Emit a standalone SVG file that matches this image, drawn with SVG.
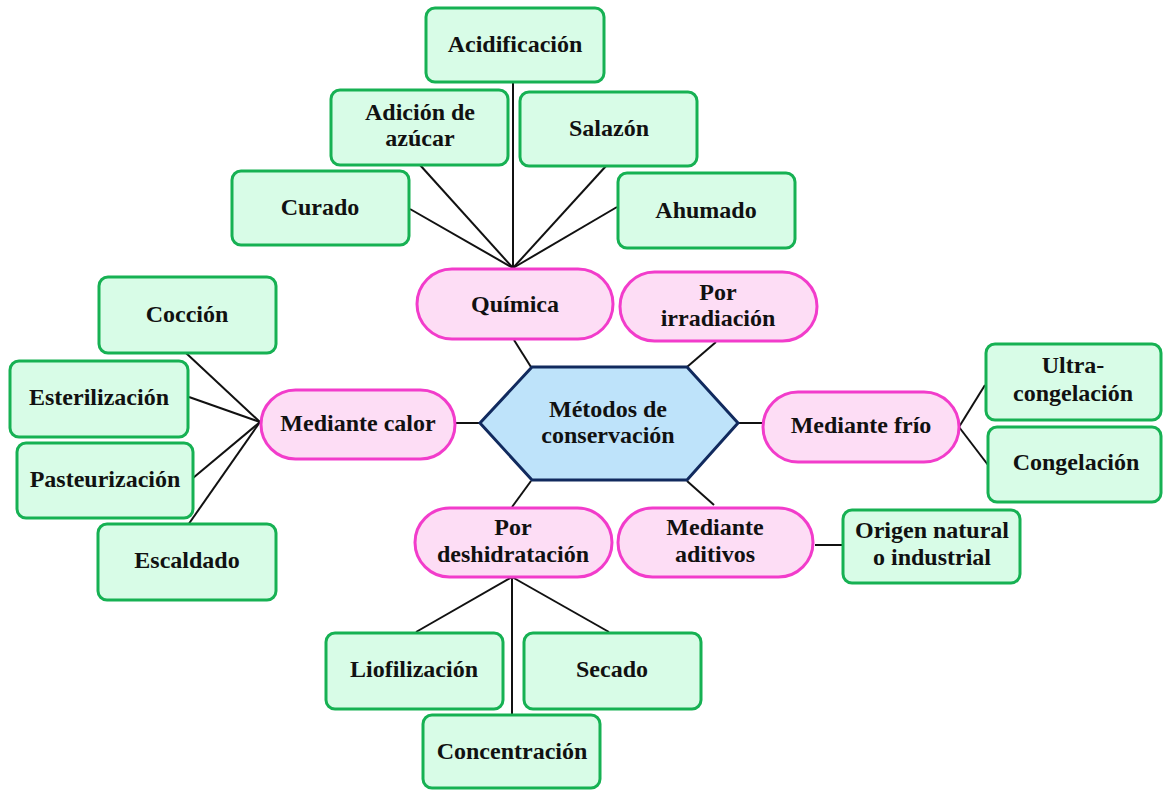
<svg xmlns="http://www.w3.org/2000/svg" width="1163" height="790" viewBox="0 0 1163 790">
<style>
.g rect{fill:#D8FCE7;stroke:#16B153;stroke-width:3}
.p rect{fill:#FDDDF5;stroke:#F23CCB;stroke-width:3}
.h polygon{fill:#BEE3FA;stroke:#112A5E;stroke-width:3;stroke-linejoin:miter}
text{font-family:"Liberation Serif","Times New Roman",serif;font-weight:bold;font-size:24px;text-anchor:middle;fill:#111}
#connectors line{stroke:#111;stroke-width:2}
</style>
<rect width="1163" height="790" fill="#fff"/>
<g id="connectors">
<line x1="513" y1="268" x2="513" y2="82"/>
<line x1="513" y1="268" x2="420" y2="165"/>
<line x1="513" y1="268" x2="606" y2="166"/>
<line x1="513" y1="268" x2="410" y2="209"/>
<line x1="513" y1="268" x2="617" y2="207"/>
<line x1="514" y1="340" x2="531" y2="367"/>
<line x1="716" y1="342" x2="687" y2="367"/>
<line x1="455" y1="423" x2="480" y2="423"/>
<line x1="738" y1="423" x2="763" y2="423"/>
<line x1="512" y1="507" x2="531" y2="481"/>
<line x1="687" y1="481" x2="714" y2="505"/>
<line x1="260" y1="422" x2="186" y2="353"/>
<line x1="260" y1="422" x2="189" y2="397"/>
<line x1="260" y1="422" x2="193" y2="478"/>
<line x1="260" y1="422" x2="188" y2="525"/>
<line x1="959" y1="427" x2="985" y2="385"/>
<line x1="959" y1="427" x2="988" y2="465"/>
<line x1="815" y1="545" x2="843" y2="545"/>
<line x1="512" y1="577" x2="416" y2="632"/>
<line x1="512" y1="577" x2="609" y2="632"/>
<line x1="512" y1="577" x2="512" y2="715"/>
</g>
<g id="metodos" class="h"><polygon points="480,423 532,367 687,367 738,423 687,480 532,480"/><text x="608" y="417">Métodos de</text><text x="608" y="443">conservación</text></g>
<g id="quimica" class="p"><rect x="417" y="269" width="196" height="70" rx="35"/><text x="515" y="312">Química</text></g>
<g id="irradiacion" class="p"><rect x="620" y="272" width="197" height="69" rx="34.5"/><text x="718" y="300">Por</text><text x="718" y="326">irradiación</text></g>
<g id="calor" class="p"><rect x="261" y="390" width="194" height="69" rx="34.5"/><text x="358" y="431">Mediante calor</text></g>
<g id="frio" class="p"><rect x="763" y="392" width="196" height="70" rx="35"/><text x="861" y="433">Mediante frío</text></g>
<g id="deshidratacion" class="p"><rect x="415" y="508" width="197" height="69" rx="34.5"/><text x="513" y="535">Por</text><text x="513" y="562">deshidratación</text></g>
<g id="aditivos" class="p"><rect x="618" y="508" width="195" height="69" rx="34.5"/><text x="715" y="535">Mediante</text><text x="715" y="562">aditivos</text></g>
<g id="acidificacion" class="g"><rect x="426" y="8" width="178" height="74" rx="9"/><text x="515" y="52">Acidificación</text></g>
<g id="azucar" class="g"><rect x="331" y="90" width="177" height="75" rx="9"/><text x="420" y="120">Adición de</text><text x="420" y="146">azúcar</text></g>
<g id="salazon" class="g"><rect x="520" y="92" width="177" height="74" rx="9"/><text x="609" y="136">Salazón</text></g>
<g id="curado" class="g"><rect x="232" y="171" width="177" height="74" rx="9"/><text x="320" y="215">Curado</text></g>
<g id="ahumado" class="g"><rect x="618" y="173" width="177" height="75" rx="9"/><text x="706" y="218">Ahumado</text></g>
<g id="coccion" class="g"><rect x="99" y="277" width="177" height="76" rx="9"/><text x="187" y="322">Cocción</text></g>
<g id="esterilizacion" class="g"><rect x="10" y="361" width="178" height="76" rx="9"/><text x="99" y="405">Esterilización</text></g>
<g id="pasteurizacion" class="g"><rect x="17" y="443" width="176" height="75" rx="9"/><text x="105" y="487">Pasteurización</text></g>
<g id="escaldado" class="g"><rect x="98" y="524" width="178" height="76" rx="9"/><text x="187" y="568">Escaldado</text></g>
<g id="ultracongelacion" class="g"><rect x="986" y="344" width="175" height="76" rx="9"/><text x="1073" y="373">Ultra-</text><text x="1073" y="401">congelación</text></g>
<g id="congelacion" class="g"><rect x="988" y="427" width="173" height="75" rx="9"/><text x="1076" y="470">Congelación</text></g>
<g id="origen" class="g"><rect x="843" y="510" width="177" height="73" rx="9"/><text x="932" y="538">Origen natural</text><text x="932" y="565">o industrial</text></g>
<g id="liofilizacion" class="g"><rect x="326" y="633" width="177" height="76" rx="9"/><text x="414" y="677">Liofilización</text></g>
<g id="secado" class="g"><rect x="524" y="633" width="177" height="76" rx="9"/><text x="612" y="677">Secado</text></g>
<g id="concentracion" class="g"><rect x="423" y="715" width="177" height="73" rx="9"/><text x="512" y="759">Concentración</text></g>
</svg>
